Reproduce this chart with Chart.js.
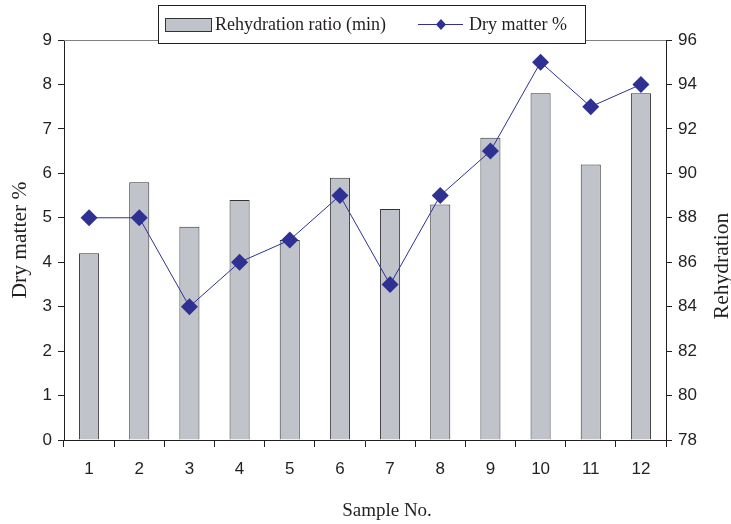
<!DOCTYPE html>
<html>
<head>
<meta charset="utf-8">
<script src="https://cdn.jsdelivr.net/npm/chart.js@4.4.1/dist/chart.umd.min.js"></script>
<style>
  html, body { margin: 0; padding: 0; background: #fff; }
  #wrap { width: 731px; height: 524px; }
</style>
</head>
<body>
<div id="wrap"><canvas id="myChart" width="731" height="524"></canvas></div>
<script>
// sample numbers on the x axis
var samples = ["1", "2", "3", "4", "5", "6", "7", "8", "9", "10", "11", "12"];
// bars, left axis
var rehydrationRatio = [4.2, 5.8, 4.8, 5.4, 4.5, 5.9, 5.2, 5.3, 6.8, 7.8, 6.2, 7.8];
// line, right axis
var dryMatter = [88, 88, 84, 86, 87, 89, 85, 89, 91, 95, 93, 94];

var barLabel = "Rehydration ratio (min)";
var lineLabel = "Dry matter %";
var leftTitle = "Dry matter %";
var rightTitle = "Rehydration";
var bottomTitle = "Sample No.";

var barFill = "#c0c3c9";
var barEdge = "#333333";
var lineColor = "#2e3192";
var ink = "#231f20";
var serif = "'Liberation Serif', 'Times New Roman', serif";

// boxed legend over the top edge, top border and the three axis titles
var frame = {
	id: "frame",
	afterDraw: function(chart) {
		var ctx = chart.ctx;
		var a = chart.chartArea;
		ctx.save();
		ctx.strokeStyle = "#808080";
		ctx.lineWidth = 1;
		ctx.beginPath();
		ctx.moveTo(a.left, a.top + 0.5);
		ctx.lineTo(a.right, a.top + 0.5);
		ctx.stroke();

		// legend box
		ctx.fillStyle = "#fff";
		ctx.fillRect(158, 5, 427, 38);
		ctx.strokeStyle = ink;
		ctx.strokeRect(158.5, 5.5, 427, 38);

		// bar swatch
		ctx.fillStyle = barFill;
		ctx.fillRect(165, 18, 46, 13);
		ctx.strokeStyle = barEdge;
		ctx.strokeRect(165.5, 18.5, 46, 13);

		ctx.fillStyle = ink;
		ctx.font = "18px " + serif;
		ctx.textBaseline = "middle";
		ctx.textAlign = "left";
		ctx.fillText(barLabel, 215, 25);

		// line swatch
		ctx.strokeStyle = lineColor;
		ctx.beginPath();
		ctx.moveTo(418, 24.5);
		ctx.lineTo(463, 24.5);
		ctx.stroke();
		ctx.fillStyle = lineColor;
		ctx.beginPath();
		ctx.moveTo(441, 19);
		ctx.lineTo(446, 24.5);
		ctx.lineTo(441, 30);
		ctx.lineTo(436, 24.5);
		ctx.closePath();
		ctx.fill();

		ctx.fillStyle = ink;
		ctx.fillText(lineLabel, 469, 25);

		// axis titles
		ctx.textAlign = "center";
		ctx.font = "19px " + serif;
		ctx.fillText(bottomTitle, 387, 511);

		ctx.font = "21.5px " + serif;
		ctx.save();
		ctx.translate(20, 240);
		ctx.rotate(-Math.PI / 2);
		ctx.fillText(leftTitle, 0, 0);
		ctx.restore();

		ctx.save();
		ctx.translate(722, 266);
		ctx.rotate(-Math.PI / 2);
		ctx.fillText(rightTitle, 0, 0);
		ctx.restore();

		ctx.restore();
	}
};

var tickFont = { family: "'Liberation Sans', Arial, sans-serif", size: 17 };

var ctx = document.getElementById("myChart");

var myChart = new Chart(ctx, {
	data: {
		labels: samples,
		datasets: [
			{
				type: "line",
				label: lineLabel,
				data: dryMatter,
				yAxisID: "yRight",
				borderColor: lineColor,
				backgroundColor: lineColor,
				borderWidth: 1,
				pointStyle: "rectRot",
				pointRadius: 8.5,
				pointBorderWidth: 0,
				lineTension: 0,
				fill: false,
				order: 0
			},
			{
				type: "bar",
				label: barLabel,
				data: rehydrationRatio,
				yAxisID: "y",
				backgroundColor: barFill,
				borderColor: barEdge,
				borderWidth: 1,
				barPercentage: 0.4,
				categoryPercentage: 1,
				order: 1
			}
		]
	},
	options: {
		responsive: false,
		animation: false,
		layout: { padding: { top: 40, left: 0, right: 0, bottom: 0 } },
		plugins: {
			legend: { display: false },
			tooltip: { enabled: false }
		},
		scales: {
			x: {
				offset: true,
				grid: {
					offset: true,
					drawOnChartArea: false,
					drawTicks: true,
					tickLength: 7,
					color: ink
				},
				border: { color: ink, width: 1 },
				ticks: { color: ink, font: tickFont, padding: 12, maxRotation: 0 },
				afterFit: function(scale) { scale.height = 84; }
			},
			y: {
				position: "left",
				min: 0,
				max: 9,
				ticks: { stepSize: 1, color: ink, font: tickFont, padding: 6 },
				grid: { drawOnChartArea: false, tickLength: 6, color: ink },
				border: { color: ink, width: 1 },
				afterFit: function(scale) { scale.width = 64; }
			},
			yRight: {
				position: "right",
				min: 78,
				max: 96,
				ticks: { stepSize: 2, color: ink, font: tickFont, padding: 6 },
				grid: { drawOnChartArea: false, tickLength: 6, color: ink },
				border: { color: ink, width: 1 },
				afterFit: function(scale) { scale.width = 65; }
			}
		}
	},
	plugins: [frame]
});
</script>
</body>
</html>
